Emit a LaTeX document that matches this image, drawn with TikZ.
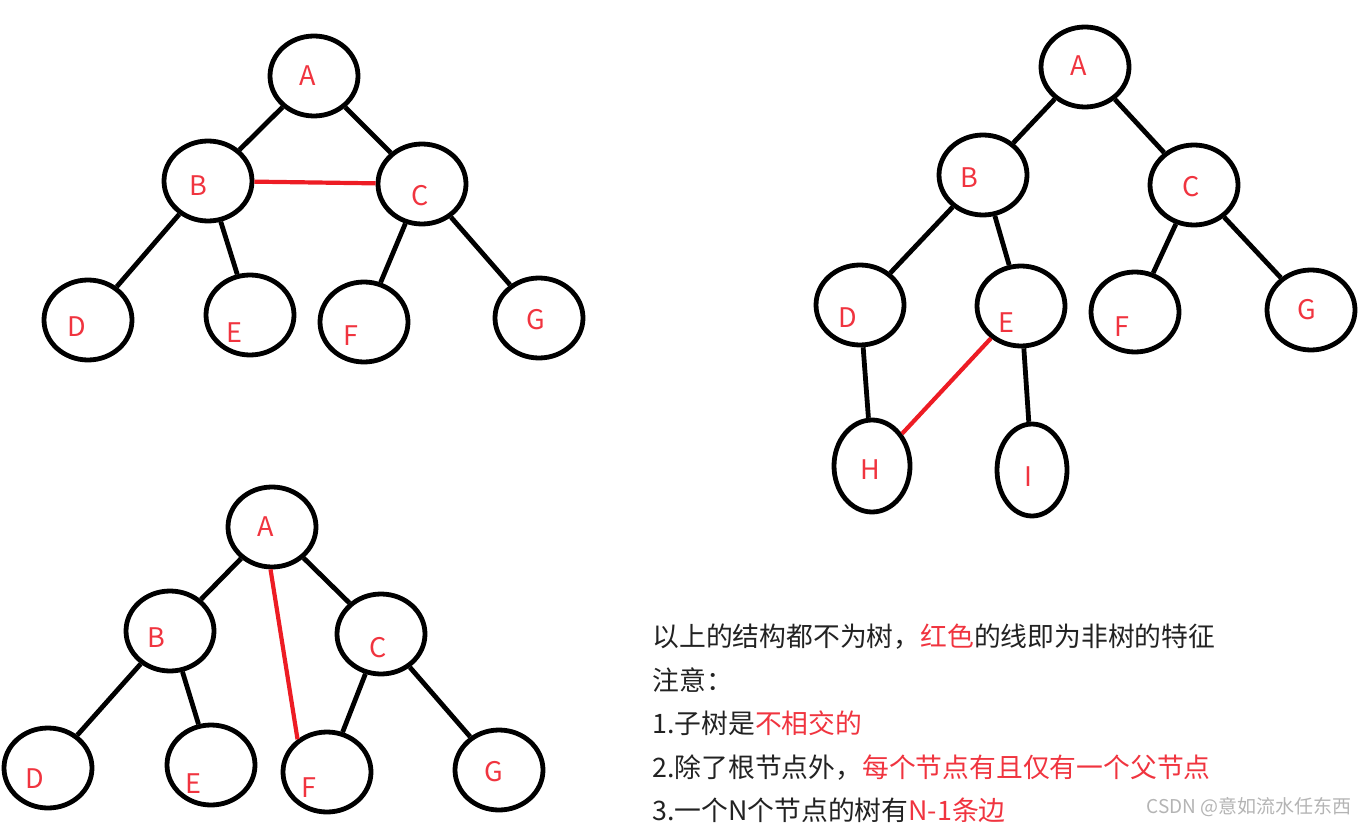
\documentclass[tikz,border=0pt]{standalone}
\usepackage{fontspec}
\setmainfont{Noto Sans CJK SC}
\usetikzlibrary{shapes.geometric}
\definecolor{paintred}{HTML}{ED1C24}
\definecolor{labelred}{HTML}{F0343F}
\definecolor{textgray}{HTML}{222222}
\definecolor{markgray}{HTML}{B4B4B4}
\tikzset{
  treenode/.style={draw,ellipse,line width=2.4pt,inner sep=0pt,minimum width=44pt,minimum height=40pt},
  tallnode/.style={minimum width=38pt,minimum height=46pt},
  letter/.style={text=labelred,inner sep=0pt,font=\fontsize{13.5}{13.5}\selectfont},
  treeline/.style={line width=2.4pt},
  badline/.style={line width=2.1pt,paintred},
  notetext/.style={anchor=base west,inner sep=0pt,text=textgray,font=\fontsize{13.4}{16}\selectfont}
}

\begin{document}
\begin{tikzpicture}[x=0.5pt,y=-0.5pt]
\useasboundingbox (0,0) rectangle (1368,828);
% first tree: B--C
\begin{scope}
\node[treenode] (a1) at (314,76) {};
\node[treenode] (b1) at (208,181) {};
\node[treenode] (c1) at (422,184) {};
\node[treenode] (d1) at (88,320) {};
\node[treenode] (e1) at (250,315) {};
\node[treenode] (f1) at (364,322) {};
\node[treenode] (g1) at (539,318) {};
\node[letter] (ta1) at (308,76) {A};
\node[letter] (tb1) at (198,186) {B};
\node[letter] (tc1) at (420,196) {C};
\node[letter] (td1) at (77,327) {D};
\node[letter] (te1) at (234,333) {E};
\node[letter] (tf1) at (351,336) {F};
\node[letter] (tg1) at (536,320) {G};
\draw[treeline] (a1)--(b1);
\draw[treeline] (a1)--(c1);
\draw[treeline] (b1)--(d1);
\draw[treeline] (b1)--(e1);
\draw[treeline] (c1)--(f1);
\draw[treeline] (c1)--(g1);
\draw[badline] (b1)--(c1);
\end{scope}
% second tree: E--H
\begin{scope}
\node[treenode] (a2) at (1085,67) {};
\node[treenode] (b2) at (983,175) {};
\node[treenode] (c2) at (1194,185) {};
\node[treenode] (d2) at (860,305) {};
\node[treenode] (e2) at (1021,306) {};
\node[treenode] (f2) at (1135,312) {};
\node[treenode] (g2) at (1311,310) {};
\node[treenode,tallnode] (h2) at (872,466) {};
\node[treenode,tallnode,minimum width=35pt] (i2) at (1032,470) {};
\node[letter] (ta2) at (1079,66) {A};
\node[letter] (tb2) at (969,178) {B};
\node[letter] (tc2) at (1191,187) {C};
\node[letter] (td2) at (848,318) {D};
\node[letter] (te2) at (1006,323) {E};
\node[letter] (tf2) at (1122,327) {F};
\node[letter] (tg2) at (1307,310) {G};
\node[letter] (th2) at (870,470) {H};
\node[letter] (ti2) at (1028,477) {I};
\draw[treeline] (a2)--(b2);
\draw[treeline] (a2)--(c2);
\draw[treeline] (b2)--(d2);
\draw[treeline] (b2)--(e2);
\draw[treeline] (c2)--(f2);
\draw[treeline] (c2)--(g2);
\draw[treeline] (d2)--(h2);
\draw[treeline] (e2)--(i2);
\draw[badline] (e2)--(h2);
\end{scope}
% third tree: A--F
\begin{scope}
\node[treenode] (a3) at (272,527) {};
\node[treenode] (b3) at (170,631) {};
\node[treenode] (c3) at (381,634) {};
\node[treenode] (d3) at (48,768) {};
\node[treenode] (e3) at (211,765) {};
\node[treenode] (f3) at (327,772) {};
\node[treenode] (g3) at (499,770) {};
\node[letter] (ta3) at (266,527) {A};
\node[letter] (tb3) at (156,638) {B};
\node[letter] (tc3) at (378,648) {C};
\node[letter] (td3) at (35,779) {D};
\node[letter] (te3) at (193,784) {E};
\node[letter] (tf3) at (309,788) {F};
\node[letter] (tg3) at (494,772) {G};
\draw[treeline] (a3)--(b3);
\draw[treeline] (a3)--(c3);
\draw[treeline] (b3)--(d3);
\draw[treeline] (b3)--(e3);
\draw[treeline] (c3)--(f3);
\draw[treeline] (c3)--(g3);
\draw[badline] (a3.268)--(f3.132);
\end{scope}
% notes
\node[notetext] (n1) at (652,646) {以上的结构都不为树，\textcolor{labelred}{红色}的线即为非树的特征};
\node[notetext] (n2) at (652,690) {注意：};
\node[notetext] (n3) at (652,733) {1.子树是\textcolor{labelred}{不相交的}};
\node[notetext] (n4) at (652,777) {2.除了根节点外，\textcolor{labelred}{每个节点有且仅有一个父节点}};
\node[notetext] (n5) at (652,820) {3.一个N个节点的树有\textcolor{labelred}{N-1条边}};
\node[anchor=base east,inner sep=0pt,text=markgray,font=\fontsize{9.5}{11}\selectfont] (mark) at (1352,813) {CSDN @意如流水任东西};
\end{tikzpicture}
\end{document}
